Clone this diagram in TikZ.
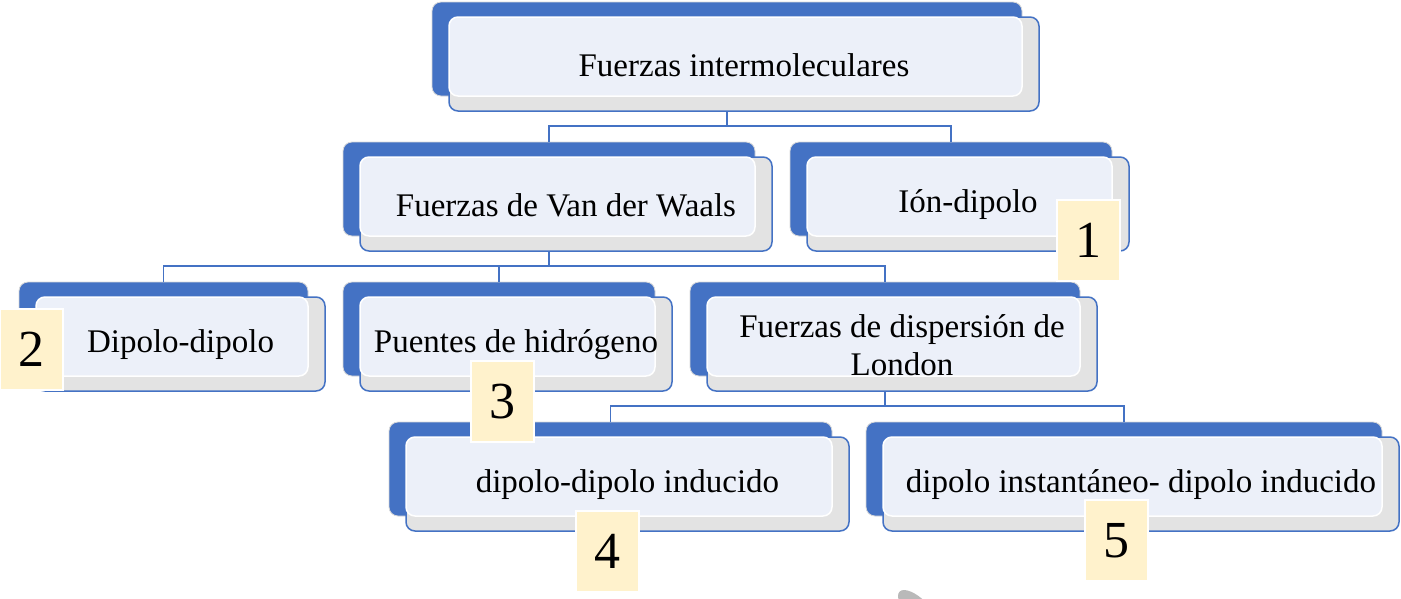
\documentclass[tikz,border=0pt]{standalone}
\usepackage{fontspec}
\setmainfont{Liberation Serif}
\usetikzlibrary{calc}

\definecolor{accent}{HTML}{4472C4}
\definecolor{panel}{HTML}{ECF0F9}
\definecolor{shade}{HTML}{E3E3E3}
\definecolor{note}{HTML}{FFF2CC}

\tikzset{
  back/.style={draw=black!15, line width=0.8pt, fill=accent, rounded corners=9pt,
    minimum height=94pt, inner sep=0pt, outer sep=0pt, anchor=north west},
  front/.style={draw=accent, line width=1.5pt, fill=shade, rounded corners=9pt,
    minimum height=94pt, inner sep=0pt, outer sep=0pt, anchor=north west},
  face/.style={fill=panel, draw=white, line width=1.5pt, rounded corners=9pt},
  label/.style={font=\fontsize{33}{38}\selectfont, align=center, inner sep=0pt},
  link/.style={draw=accent, line width=1.3pt},
  tag/.style={fill=note, draw=white, line width=1.5pt, minimum width=63pt,
    minimum height=81pt, inner sep=0pt, outer sep=0pt, anchor=north west,
    font=\fontsize{52}{52}\selectfont},
}

% one chart entry: name, left, top, width, text
\newcommand\chartbox[5]{%
  \node[back, minimum width=#4pt] (#1B) at (#2,#3) {};
  \node[front, minimum width=#4pt] (#1F) at ($(#1B.north west)+(17,15)$) {};
  \path[face] (#1F.north west) rectangle (#1B.south east);
  \node[label] (#1) at ([yshift=-1pt]#1F.center) {#5};
}
% digit set slightly low in its tag
\newcommand\tagdigit[1]{\raisebox{-3pt}{#1}}

\begin{document}
\begin{tikzpicture}[x=1pt, y=-1pt]
\useasboundingbox (0,0) rectangle (1401,598);
\clip (0,0) rectangle (1401,598);
\fill[white] (0,0) rectangle (1401,598);

% level 1
\chartbox{root}{432}{2}{590}{Fuerzas intermoleculares}
% level 2
\chartbox{vdw}{343}{142}{412}{Fuerzas de Van der Waals}
\chartbox{ion}{790}{142}{322}{Ión-dipolo}
% level 3
\chartbox{dd}{19}{282}{289}{Dipolo-dipolo}
\chartbox{ph}{343}{282}{312}{Puentes de hidrógeno}
\chartbox{lon}{690}{282}{390}{Fuerzas de dispersión de\\London}
% level 4
\chartbox{ddi}{389}{422}{443}{dipolo-dipolo inducido}
\chartbox{inst}{866}{422}{516}{dipolo instantáneo- dipolo inducido}

% connectors
\draw[link] (rootB.south |- rootF.south) |- ([yshift=16pt]vdwB.north) -- (vdwB.north);
\draw[link] (rootB.south |- rootF.south) |- ([yshift=16pt]ionB.north) -- (ionB.north);
\draw[link] (vdwB.south |- vdwF.south) |- ([yshift=16pt]ddB.north) -- (ddB.north);
\draw[link] (vdwB.south |- vdwF.south) |- ([yshift=16pt]phB.north) -- (phB.north);
\draw[link] (vdwB.south |- vdwF.south) |- ([yshift=16pt]lonB.north) -- (lonB.north);
\draw[link] (lonB.south |- lonF.south) |- ([yshift=16pt]ddiB.north) -- (ddiB.north);
\draw[link] (lonB.south |- lonF.south) |- ([yshift=16pt]instB.north) -- (instB.north);

% numbered tags
\node[tag] (t1) at (1057,200) {\tagdigit{1}};
\node[tag] (t2) at (0,309) {\tagdigit{2}};
\node[tag] (t3) at (471,361) {\tagdigit{3}};
\node[tag] (t4) at (576,511) {\tagdigit{4}};
\node[tag] (t5) at (1085,500) {\tagdigit{5}};

% pointer tip at the lower edge
\fill[gray!55, rotate around={-45:(918,610)}] (918,610) ellipse (26pt and 11pt);
\end{tikzpicture}
\end{document}
